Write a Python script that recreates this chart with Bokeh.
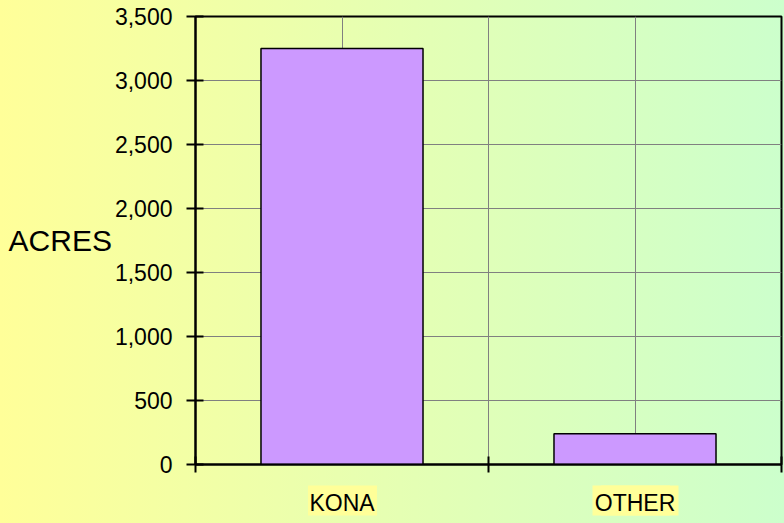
from bokeh.plotting import figure
from bokeh.models import (Range1d, FixedTicker, NumeralTickFormatter, ColumnDataSource,
                          LinearAxis, GlobalInlineStyleSheet)
from bokeh.embed import file_html
from bokeh.resources import INLINE

# ---- data ----
categories = ["KONA", "OTHER"]
acres = [3250, 240]
y_ticks = [0, 500, 1000, 1500, 2000, 2500, 3000, 3500]
y_label = "ACRES"

FONT = "Liberation Sans"
HILITE = "#FFFF99"

xs = [i + 0.5 for i in range(len(categories))]
src = ColumnDataSource(dict(x=xs, top=acres, name=categories))

p = figure(width=784, height=523, output_backend="svg", toolbar_location=None,
           x_range=Range1d(0, len(categories)), y_range=Range1d(0, 3500),
           min_border_left=195, min_border_right=3, min_border_top=16, min_border_bottom=59)

p.background_fill_alpha = 0
p.border_fill_alpha = 0
p.outline_line_color = "black"
p.outline_line_width = 2

p.stylesheets = [GlobalInlineStyleSheet(css="""
html, body { background: linear-gradient(to right, #FFFF99, #CCFFCC) !important; min-height: 100%; }
""")]

# grids
p.ygrid.ticker = FixedTicker(ticks=y_ticks)
p.ygrid.grid_line_color = "#808080"
p.ygrid.grid_line_width = 1
p.xgrid.ticker = FixedTicker(ticks=[0.5, 1, 1.5])
p.xgrid.grid_line_color = "#808080"
p.xgrid.grid_line_width = 1

# bars
p.vbar(x="x", top="top", bottom=0, width=0.553, source=src,
       fill_color="#CC99FF", line_color="black", line_width=1.5)

# y axis
ya = p.yaxis[0]
ya.ticker = FixedTicker(ticks=y_ticks)
ya.formatter = NumeralTickFormatter(format="0,0")
ya.axis_line_color = "black"
ya.axis_line_width = 2
ya.major_tick_line_color = "black"
ya.major_tick_line_width = 2
ya.major_tick_out = 9
ya.major_tick_in = 8
ya.minor_tick_line_color = None
ya.major_label_standoff = 14
ya.major_label_text_font = FONT
ya.major_label_text_font_size = "23px"
ya.major_label_text_color = "black"
ya.axis_label = y_label
ya.axis_label_text_font = FONT
ya.axis_label_text_font_size = "30px"
ya.axis_label_text_font_style = "normal"
ya.axis_label_text_color = "black"
ya.axis_label_standoff = 0
if hasattr(ya, "axis_label_orientation"):
    ya.axis_label_orientation = "horizontal"

# x axis: boundary ticks only
xa = p.xaxis[0]
xa.ticker = FixedTicker(ticks=list(range(len(categories) + 1)))
xa.major_label_overrides = {i: "" for i in range(len(categories) + 1)}
xa.major_label_text_font_size = "0px"
xa.major_label_standoff = 0
xa.axis_line_color = "black"
xa.axis_line_width = 2
xa.major_tick_line_color = "black"
xa.major_tick_line_width = 2
xa.major_tick_out = 8
xa.major_tick_in = 8
xa.minor_tick_line_color = None

# x axis: category names on a highlight (thick, short ticks act as the label background;
# a negative tick_in starts them a little below the axis)
xa2 = LinearAxis(ticker=FixedTicker(ticks=xs, minor_ticks=xs[1:]),
                 major_label_overrides={x: c for x, c in zip(xs, categories)})
xa2.axis_line_color = None
xa2.major_tick_line_color = HILITE
xa2.major_tick_line_width = 69
xa2.major_tick_out = 43
xa2.major_tick_in = -13
xa2.minor_tick_line_color = HILITE
xa2.minor_tick_line_width = 86
xa2.minor_tick_out = 43
xa2.minor_tick_in = -13
xa2.major_label_standoff = -26
xa2.major_label_text_font = FONT
xa2.major_label_text_font_size = "23px"
xa2.major_label_text_color = "black"
p.add_layout(xa2, "below")

open("out.html", "w").write(file_html(p, INLINE))
